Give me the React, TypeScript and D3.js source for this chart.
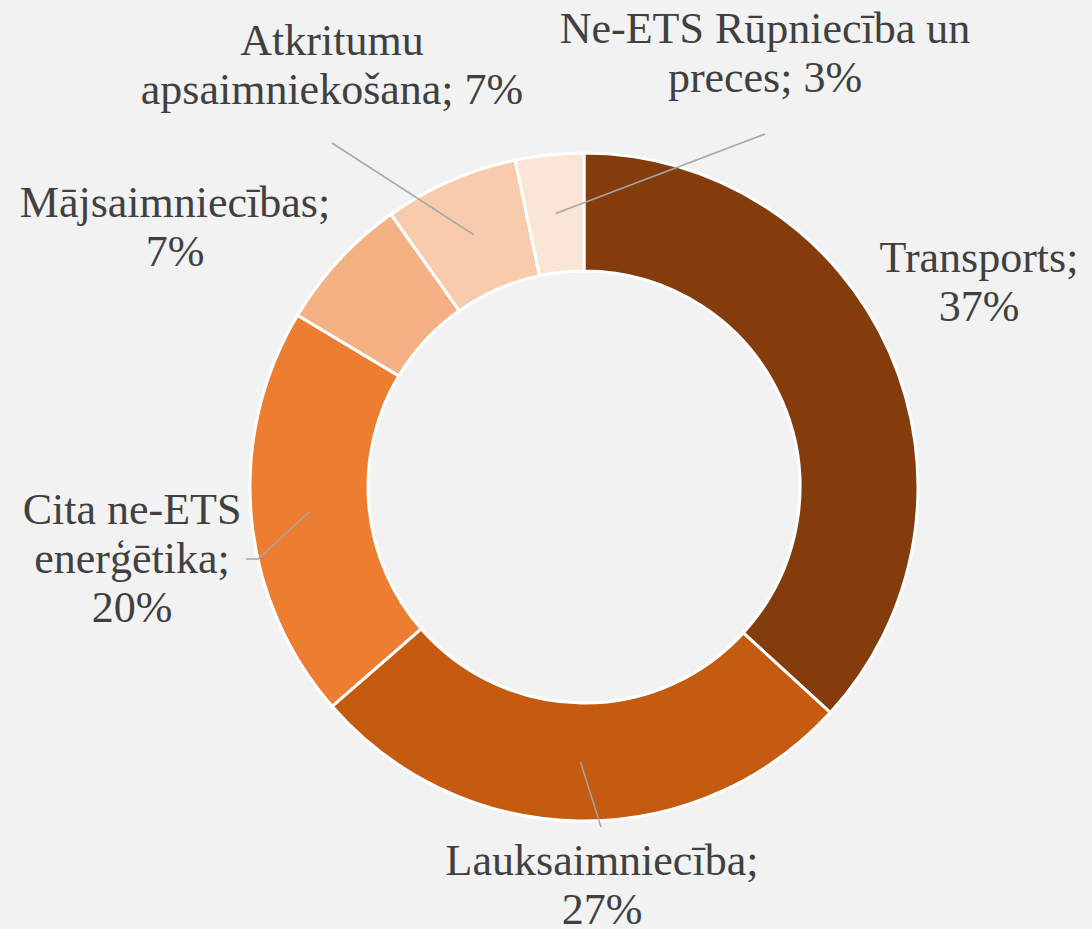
import React from "react";
import * as d3 from "d3";

const categories = [
  "Transports",
  "Lauksaimniecība",
  "Cita ne-ETS enerģētika",
  "Mājsaimniecības",
  "Atkritumu apsaimniekošana",
  "Ne-ETS Rūpniecība un preces",
];
const values = [36.8, 26.8, 20.0, 6.6, 6.5, 3.3];
const percentLabels = ["37%", "27%", "20%", "7%", "7%", "3%"];
const colors = ["#843C0C", "#C55A11", "#ED7D31", "#F4B183", "#F8CBAD", "#FBE5D6"];

// label text split into lines as in the reference
const labelLines = [
  ["Transports;", percentLabels[0]],
  ["Lauksaimniecība;", percentLabels[1]],
  ["Cita ne-ETS", "enerģētika;", percentLabels[2]],
  ["Mājsaimniecības;", percentLabels[3]],
  ["Atkritumu", "apsaimniekošana; " + percentLabels[4]],
  ["Ne-ETS Rūpniecība un", "preces; " + percentLabels[5]],
];
const labelPos = [
  { x: 979, y: 272, leader: null },
  { x: 602, y: 875, leader: [601, 827] },
  { x: 132, y: 524, leader: [246, 559], elbow: [258, 559] },
  { x: 175, y: 217, leader: null },
  { x: 332, y: 55, leader: [332, 143] },
  { x: 765, y: 43, leader: [765, 134] },
];

const W = 1092;
const H = 929;
const cx = 584;
const cy = 487;
const outerR = 334;
const innerR = 216;
const lineH = 49;

export default function App() {
  const pie = d3.pie<number>().sort(null).value((d) => d);
  const arcs = pie(values);
  const arc = d3.arc<d3.PieArcDatum<number>>().innerRadius(innerR).outerRadius(outerR);
  return (
    <svg
      width={W}
      height={H}
      style={{ position: "absolute", left: 0, top: 0, background: "#F2F2F2" }}
    >
      <rect x={0} y={0} width={W} height={H} fill="#F2F2F2" />
      <g transform={`translate(${cx},${cy})`}>
        {arcs.map((a, i) => (
          <path key={i} d={arc(a) || ""} fill={colors[i]} stroke="#FFFFFF" strokeWidth={3}>
            <title>{categories[i]}</title>
          </path>
        ))}
      </g>
      {arcs.map((a, i) => {
        const p = labelPos[i];
        if (!p.leader) return null;
        const c = arc.centroid(a);
        const pts: number[][] = [p.leader];
        if (p.elbow) pts.push(p.elbow);
        pts.push([c[0] + cx, c[1] + cy]);
        return (
          <polyline
            key={"l" + i}
            points={pts.map((q) => q.join(",")).join(" ")}
            fill="none"
            stroke="#A6A6A6"
            strokeWidth={1.5}
          />
        );
      })}
      {labelLines.map((lines, i) => (
        <text
          key={"t" + i}
          textAnchor="middle"
          fontFamily="'Liberation Serif', serif"
          fontSize={44}
          fill="#404040"
        >
          {lines.map((ln, j) => (
            <tspan key={j} x={labelPos[i].x} y={labelPos[i].y + j * lineH}>
              {ln}
            </tspan>
          ))}
        </text>
      ))}
    </svg>
  );
}
